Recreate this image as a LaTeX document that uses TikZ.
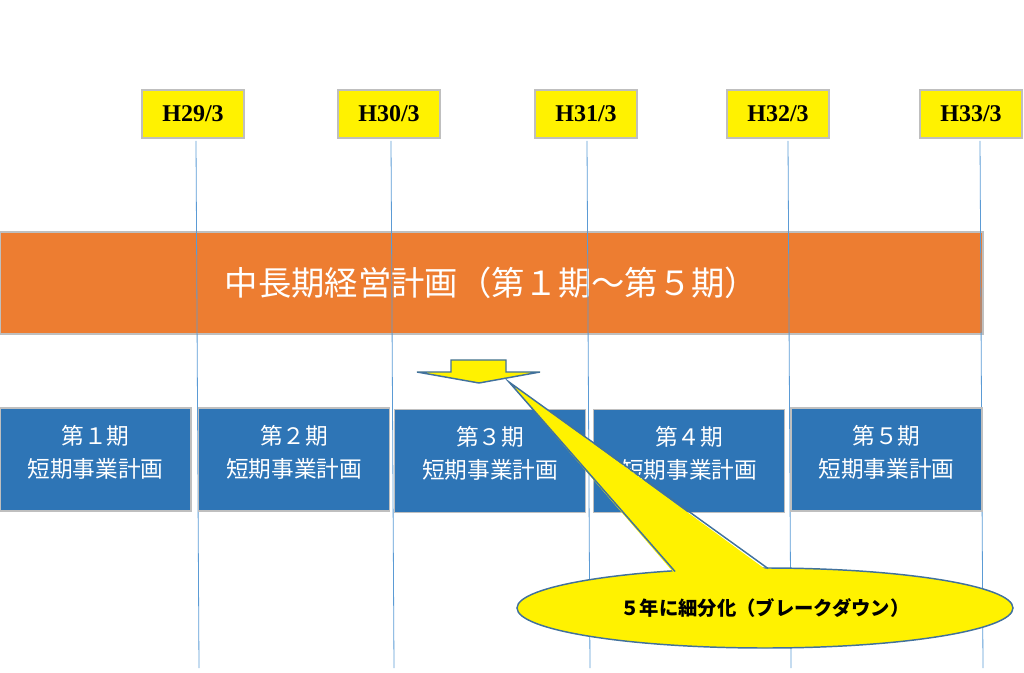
\documentclass[tikz,border=0pt]{standalone}
\usepackage{fontspec}
\setmainfont{Liberation Serif}
\newfontfamily\cjk{Noto Sans CJK JP}
\usepackage{xcolor}
\usepackage{tikz}
\usetikzlibrary{positioning, shapes.geometric}

\definecolor{planorange}{HTML}{ED7D31}
\definecolor{planblue}{HTML}{2E75B6}
\definecolor{edgegray}{HTML}{BFBFBF}
\definecolor{gridblue}{HTML}{5B9BD5}
\definecolor{outlineblue}{HTML}{41719C}

\begin{document}
\begin{tikzpicture}[
  x=0.75pt, y=-0.75pt,
  yearbox/.style={
    draw=edgegray,
    line width=1.1pt,
    fill=yellow,
    minimum width=76.5pt,
    minimum height=36pt,
    inner sep=0pt,
    outer sep=0pt,
    font=\bfseries\fontsize{18}{20}\selectfont
  },
  planbar/.style={
    draw=edgegray,
    line width=1.1pt,
    fill=planorange,
    minimum width=737pt,
    minimum height=76.5pt,
    inner sep=0pt,
    text=white,
    font=\cjk\fontsize{25}{30}\selectfont
  },
  phasebox/.style={
    draw=edgegray,
    line width=1.1pt,
    fill=planblue,
    minimum width=143pt,
    minimum height=77pt,
    inner sep=0pt,
    align=center,
    text=white,
    font=\cjk\fontsize{17}{24.75}\selectfont,
    execute at end node={\rule[-12.5pt]{0pt}{0pt}}
  },
  gridline/.style={
    gridblue,
    line width=0.6pt
  },
  arrowshape/.style={
    draw=outlineblue,
    fill=yellow,
    line width=1.1pt,
    line join=miter
  },
  notebubble/.style={
    ellipse,
    draw=outlineblue,
    fill=yellow,
    line width=1.1pt,
    minimum width=372pt,
    minimum height=60pt,
    inner sep=0pt,
    font=\cjk\bfseries\fontsize{14.5}{16}\selectfont
  }
]
\useasboundingbox (0,0) rectangle (1024,673);

% Year labels
\foreach \yr/\xc in {29/193, 30/389, 31/586, 32/778, 33/971}
  \node [yearbox] (h\yr) at (\xc,114) {H\yr/3\hspace{6pt}};

% Long term plan
\node [planbar] (plan) at (491.5,283) {中長期経営計画（第１期～第５期）\hspace{10pt}};

% Year lines
\foreach \yr/\xt in {29/196, 30/391, 31/587, 32/788, 33/980} {
  \coordinate (top\yr) at (\xt,141);
  \coordinate (end\yr) at (\xt+3,668);
  \draw [gridline] (top\yr) -- (end\yr);
}

% Down arrow
\draw [arrowshape] (451,360) -- (506,360) -- (506,372) -- (540,372)
  -- (479,383) -- (417,372) -- (451,372) -- cycle;

% Short term plans
\node [phasebox] (p1) at (95.5,459.5) {第１期\\短期事業計画};
\node [phasebox] (p2) at (294,459.5) {第２期\\短期事業計画};
\node [phasebox] (p3) at (490,461) {第３期\\短期事業計画};
\node [phasebox] (p4) at (689,461) {第４期\\短期事業計画};
\node [phasebox] (p5) at (886.5,459.5) {第５期\\短期事業計画};

% Callout
\node [notebubble] (note) at (765,608) {５年に細分化（ブレークダウン）};
\coordinate (tailtip) at (509,382);
\coordinate (tailL) at (675,571.5);
\coordinate (tailR) at (768,568.5);
\fill [yellow] ([yshift=-2pt]tailL) -- (tailtip) -- ([yshift=-2pt]tailR) -- cycle;
\draw [outlineblue, line width=1.1pt] (tailL) -- (tailtip) -- (tailR);

\end{tikzpicture}
\end{document}
